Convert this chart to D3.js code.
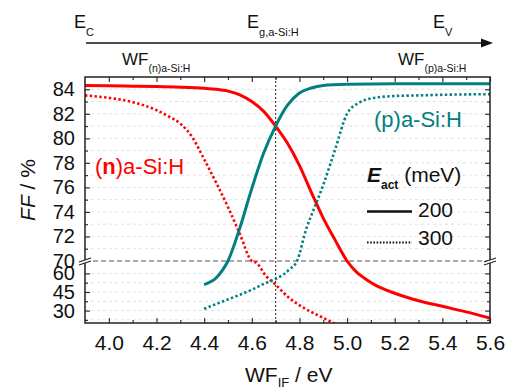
<!DOCTYPE html>
<html>
<head>
<meta charset="utf-8">
<script src="https://cdn.jsdelivr.net/npm/d3@7"></script>
<style>
  body { margin: 0; background: #fff; }
  svg { display: block; font-family: "Liberation Sans", Arial, sans-serif; }
</style>
</head>
<body>
<div id="chart"></div>
<script>
// (n)a-Si:H, Eact = 200 meV
const wfN200 = [3.9, 4.0, 4.1, 4.2, 4.3, 4.4, 4.45, 4.5, 4.55, 4.6, 4.65, 4.7, 4.75, 4.8, 4.85, 4.9, 4.95, 5.0, 5.04, 5.07, 5.11, 5.2, 5.3, 5.4, 5.5, 5.6];
const ffN200 = [84.3, 84.28, 84.25, 84.22, 84.17, 84.08, 84.0, 83.85, 83.55, 83.0, 82.2, 81.0, 79.6, 77.8, 75.6, 73.5, 71.7, 70.0, 61.0, 56.5, 51.5, 44.0, 38.0, 33.5, 29.0, 24.0];
// (n)a-Si:H, Eact = 300 meV
const wfN300 = [3.9, 4.0, 4.1, 4.2, 4.25, 4.3, 4.35, 4.4, 4.45, 4.5, 4.55, 4.6, 4.62, 4.66, 4.7, 4.75, 4.82, 4.89, 4.96];
const ffN300 = [83.5, 83.3, 82.95, 82.3, 81.8, 81.2, 80.1, 78.3, 76.4, 74.4, 72.2, 70.0, 68.5, 57.8, 50.9, 41.4, 32.0, 25.1, 18.5];
// (p)a-Si:H, Eact = 200 meV
const wfP200 = [4.4, 4.45, 4.475, 4.5, 4.55, 4.6, 4.65, 4.7, 4.75, 4.8, 4.85, 4.9, 5.0, 5.2, 5.4, 5.6];
const ffP200 = [51.0, 56.3, 62.0, 70.0, 72.7, 75.9, 78.8, 81.0, 82.7, 83.7, 84.1, 84.3, 84.4, 84.45, 84.45, 84.45];
// (p)a-Si:H, Eact = 300 meV
const wfP300 = [4.4, 4.45, 4.5, 4.55, 4.6, 4.65, 4.7, 4.73, 4.76, 4.79, 4.83, 4.86, 4.9, 4.95, 5.0, 5.05, 5.1, 5.2, 5.3, 5.4, 5.6];
const ffP300 = [31.4, 35.3, 39.0, 42.8, 46.8, 51.5, 55.5, 58.8, 63.5, 70.0, 72.7, 74.2, 76.2, 79.1, 82.0, 82.9, 83.25, 83.45, 83.5, 83.55, 83.6];

const xTicks = [4.0, 4.2, 4.4, 4.6, 4.8, 5.0, 5.2, 5.4, 5.6];
const xMinor = [4.1, 4.3, 4.5, 4.7, 4.9, 5.1, 5.3, 5.5];
const yTicks = [30, 45, 60, 70, 72, 74, 76, 78, 80, 82, 84];
const yMinor = [22.5, 37.5, 52.5, 71, 73, 75, 77, 79, 81, 83];
const legendValues = ["200", "300"];

const red = "#ff0000", teal = "#008080";

const width = 511, height = 389;
const margin = { top: 77, right: 21, bottom: 66, left: 85 };
const plotL = margin.left, plotR = width - margin.right;
const plotT = margin.top, plotB = height - margin.bottom;
const lowerPx = 62; // height of the compressed 20..70 segment

const svg = d3.select("#chart").append("svg")
    .attr("width", width)
    .attr("height", height);

const x = d3.scaleLinear().domain([3.9, 5.6]).range([plotL, plotR]);
// broken axis: 20..70 squeezed, 70..85 stretched
const y = d3.scaleLinear().domain([20, 70, 85]).range([plotB, plotB - lowerPx, plotT]);

// grid
svg.append("g")
    .selectAll("line")
    .data(yTicks.concat(yMinor).filter(v => v !== 70))
    .join("line")
    .attr("x1", plotL).attr("x2", plotR)
    .attr("y1", d => y(d)).attr("y2", d => y(d))
    .attr("stroke", "#e2e2e2")
    .attr("stroke-dasharray", "3,3");

svg.append("line")
    .attr("x1", plotL).attr("x2", plotR)
    .attr("y1", y(70)).attr("y2", y(70))
    .attr("stroke", "#555")
    .attr("stroke-dasharray", "5,3");

svg.append("line")
    .attr("x1", x(4.7)).attr("x2", x(4.7))
    .attr("y1", plotT).attr("y2", plotB)
    .attr("stroke", "#444")
    .attr("stroke-width", 1.2)
    .attr("stroke-dasharray", "2,2");

// curves
svg.append("clipPath").attr("id", "plotclip")
    .append("rect")
    .attr("x", plotL).attr("y", plotT)
    .attr("width", plotR - plotL).attr("height", plotB - plotT);

const line = d3.line()
    .x(d => x(d[0]))
    .y(d => y(d[1]))
    .curve(d3.curveMonotoneX);

const zip = (a, b) => a.map((k, i) => [k, b[i]]);

const series = [
    { pts: zip(wfN200, ffN200), color: red, dotted: false },
    { pts: zip(wfN300, ffN300), color: red, dotted: true },
    { pts: zip(wfP200, ffP200), color: teal, dotted: false },
    { pts: zip(wfP300, ffP300), color: teal, dotted: true },
];

svg.append("g")
    .attr("clip-path", "url(#plotclip)")
    .selectAll("path")
    .data(series)
    .join("path")
    .attr("d", s => line(s.pts))
    .attr("fill", "none")
    .attr("stroke", s => s.color)
    .attr("stroke-width", s => s.dotted ? 2.6 : 3)
    .attr("stroke-dasharray", s => s.dotted ? "2.4,2.4" : null);

// axes (ticks inward on all sides)
const styleAxis = (g, size = 21) => {
    g.select(".domain").remove();
    g.selectAll(".tick line").attr("stroke", "#333").attr("stroke-width", 1.2);
    g.selectAll(".tick text").attr("fill", "#111").attr("font-size", size)
        .attr("font-family", "Liberation Sans, Arial, sans-serif");
};

svg.append("g")
    .attr("transform", `translate(0,${plotB})`)
    .call(d3.axisBottom(x).tickValues(xTicks).tickFormat(d3.format(".1f")).tickSize(-5).tickPadding(12))
    .call(styleAxis);
svg.append("g")
    .attr("transform", `translate(0,${plotB})`)
    .call(d3.axisBottom(x).tickValues(xMinor).tickFormat("").tickSize(-3))
    .call(styleAxis);
svg.append("g")
    .attr("transform", `translate(0,${plotT})`)
    .call(d3.axisTop(x).tickValues(xTicks).tickFormat("").tickSize(-5))
    .call(styleAxis);
svg.append("g")
    .attr("transform", `translate(0,${plotT})`)
    .call(d3.axisTop(x).tickValues(xMinor).tickFormat("").tickSize(-3))
    .call(styleAxis);

const yTickLines = yTicks.filter(v => v !== 70);
svg.append("g")
    .attr("transform", `translate(${plotL},0)`)
    .call(d3.axisLeft(y).tickValues(yTicks).tickFormat(d3.format("d")).tickSize(0).tickPadding(10))
    .call(g => styleAxis(g, 20));
[[plotL, d3.axisLeft], [plotR, d3.axisRight]].forEach(([pos, ax]) => {
    svg.append("g")
        .attr("transform", `translate(${pos},0)`)
        .call(ax(y).tickValues(yTickLines).tickFormat("").tickSize(-5))
        .call(styleAxis);
    svg.append("g")
        .attr("transform", `translate(${pos},0)`)
        .call(ax(y).tickValues(yMinor).tickFormat("").tickSize(-3))
        .call(styleAxis);
});

// frame
svg.append("rect")
    .attr("x", plotL).attr("y", plotT)
    .attr("width", plotR - plotL).attr("height", plotB - plotT)
    .attr("fill", "none")
    .attr("stroke", "#222")
    .attr("stroke-width", 1.5);

// axis break marks
[plotL, plotR].forEach(px => {
    const yb = y(70);
    svg.append("path")
        .attr("d", `M${px - 6},${yb + 1}L${px + 6},${yb - 3}L${px + 6},${yb}L${px - 6},${yb + 4}Z`)
        .attr("fill", "#fff");
    svg.append("path")
        .attr("d", `M${px - 6},${yb + 1}L${px + 6},${yb - 3}M${px - 6},${yb + 4}L${px + 6},${yb}`)
        .attr("stroke", "#222")
        .attr("stroke-width", 1.1);
});

// axis titles
const yTitle = svg.append("text")
    .attr("transform", `translate(35,190) rotate(-90)`)
    .attr("text-anchor", "middle")
    .attr("font-size", 21)
    .attr("fill", "#111");
yTitle.append("tspan").attr("font-style", "italic").text("FF");
yTitle.append("tspan").text(" / %");

const xTitle = svg.append("text")
    .attr("x", 245).attr("y", 382)
    .attr("font-size", 21)
    .attr("fill", "#111");
xTitle.append("tspan").text("WF");
xTitle.append("tspan").attr("font-size", 13).attr("dy", 5).text("IF");
xTitle.append("tspan").attr("dy", -5).text(" / eV");

// energy arrow on top
svg.append("line")
    .attr("x1", plotL + 1).attr("x2", plotR - 6)
    .attr("y1", 43).attr("y2", 43)
    .attr("stroke", "#111")
    .attr("stroke-width", 1.6);
svg.append("path")
    .attr("d", `M${plotR + 3},43L${plotR - 9},38.5L${plotR - 9},47.5Z`)
    .attr("fill", "#111");

const subLabel = (px, py, main, sub, size, subSize, dy) => {
    const t = svg.append("text").attr("x", px).attr("y", py).attr("fill", "#111").attr("font-size", size);
    t.append("tspan").text(main);
    t.append("tspan").attr("font-size", subSize).attr("dy", dy).text(sub);
};
subLabel(74, 28, "E", "C", 18, 11, 8);
subLabel(247, 28, "E", "g,a-Si:H", 18, 11, 8);
subLabel(433, 28, "E", "V", 18, 11, 8);
subLabel(122, 65, "WF", "(n)a-Si:H", 17, 10.5, 7);
subLabel(398, 65, "WF", "(p)a-Si:H", 17, 10.5, 7);

// in-plot labels
const nLabel = svg.append("text").attr("x", 95).attr("y", 174)
    .attr("font-size", 22).attr("fill", red);
nLabel.append("tspan").text("(");
nLabel.append("tspan").attr("font-weight", "bold").text("n");
nLabel.append("tspan").text(")a-Si:H");

svg.append("text").attr("x", 374).attr("y", 127)
    .attr("font-size", 22).attr("fill", teal)
    .text("(p)a-Si:H");

// legend
const lg = svg.append("text").attr("x", 367).attr("y", 182)
    .attr("font-size", 21).attr("fill", "#111");
lg.append("tspan").attr("font-weight", "bold").attr("font-style", "italic").text("E");
lg.append("tspan").attr("font-weight", "bold").attr("font-size", 12).attr("dy", 7).text("act");
lg.append("tspan").attr("dy", -7).text(" (meV)");

const legendRows = [
    { label: legendValues[0], dash: null, ly: 211.5, ty: 217 },
    { label: legendValues[1], dash: "1.6,1.6", ly: 242.5, ty: 245 },
];
legendRows.forEach(r => {
    svg.append("line")
        .attr("x1", 367).attr("x2", 412)
        .attr("y1", r.ly).attr("y2", r.ly)
        .attr("stroke", "#111")
        .attr("stroke-width", r.dash ? 2 : 2.6)
        .attr("stroke-dasharray", r.dash);
    svg.append("text").attr("x", 418).attr("y", r.ty)
        .attr("font-size", 21).attr("fill", "#111")
        .text(r.label);
});
</script>
</body>
</html>
